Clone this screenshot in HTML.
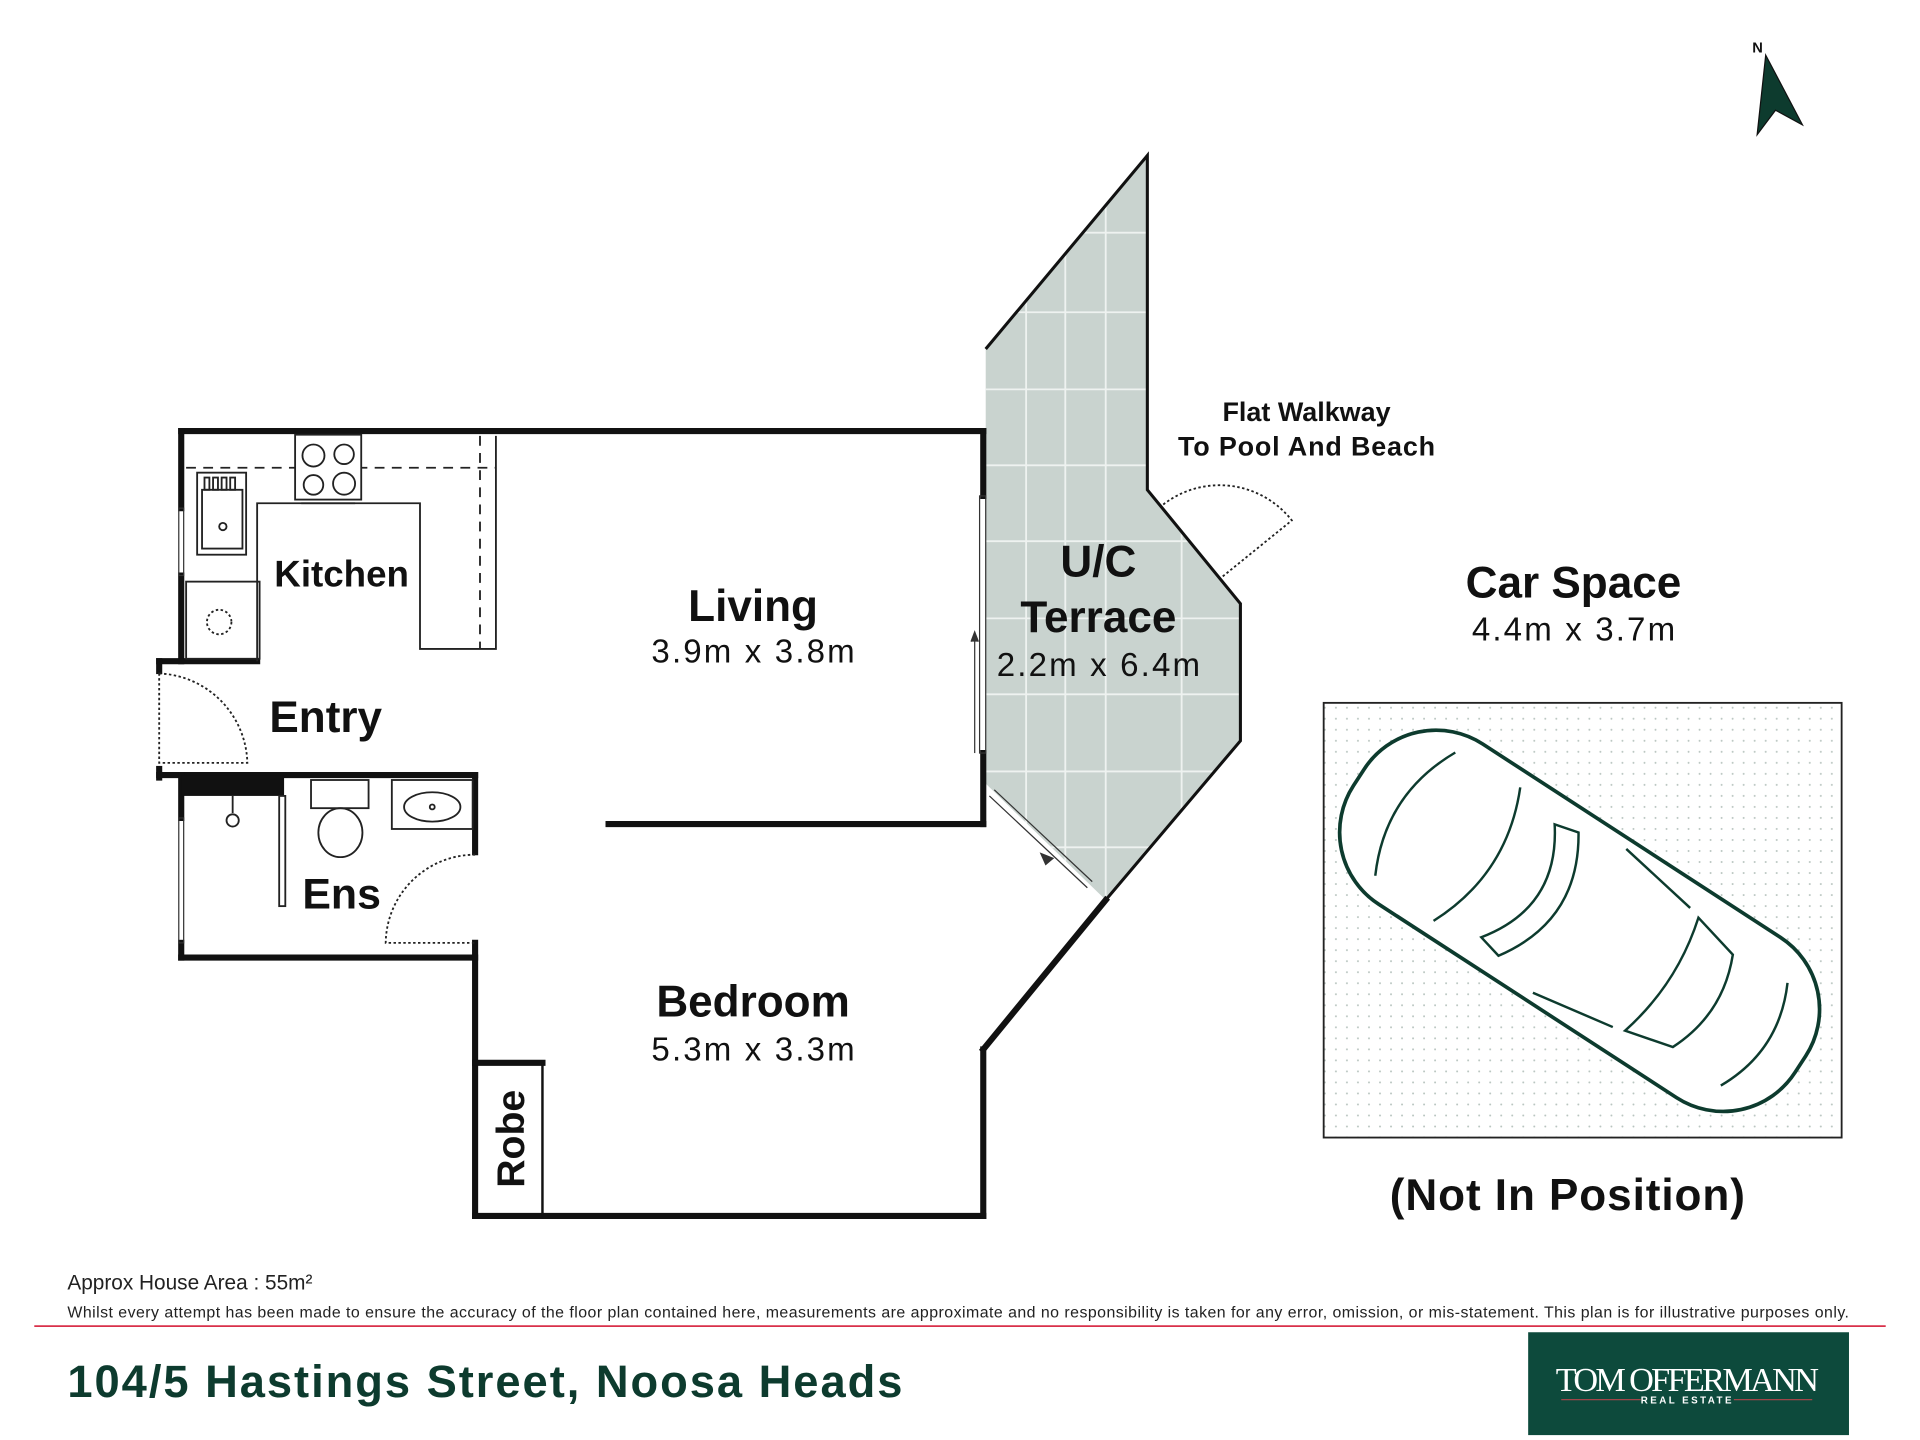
<!DOCTYPE html>
<html><head><meta charset="utf-8"><style>
html,body{margin:0;padding:0;background:#fff}
svg{display:block}
text{font-family:"Liberation Sans","DejaVu Sans",sans-serif}
</style></head><body>
<svg width="1920" height="1440" viewBox="0 0 1568 1176" xmlns="http://www.w3.org/2000/svg">
<defs>
<pattern id="dots" width="9" height="9" patternUnits="userSpaceOnUse"><circle cx="2" cy="2" r="0.8" fill="#b8c4bf"/></pattern>
<clipPath id="tc"><polygon points="805,285 937,127 937,400 1013,493 1013,605 903,735 805,640"/></clipPath>
</defs>
<rect width="1568" height="1176" fill="#fff"/>
<polygon points="805,285 937,127 937,400 1013,493 1013,605 903,735 805,640" fill="#c9d3cf"/>
<g clip-path="url(#tc)" stroke="#eef2f0" stroke-width="1.5">
<line x1="838" y1="100" x2="838" y2="760"/><line x1="870" y1="100" x2="870" y2="760"/><line x1="903" y1="100" x2="903" y2="760"/><line x1="965" y1="100" x2="965" y2="760"/>
<line x1="800" y1="190" x2="1020" y2="190"/><line x1="800" y1="255" x2="1020" y2="255"/><line x1="800" y1="318" x2="1020" y2="318"/><line x1="800" y1="380" x2="1020" y2="380"/><line x1="800" y1="442" x2="1020" y2="442"/><line x1="800" y1="505" x2="1020" y2="505"/><line x1="800" y1="567" x2="1020" y2="567"/><line x1="800" y1="630" x2="1020" y2="630"/><line x1="800" y1="692" x2="1020" y2="692"/>
</g>
<polyline points="805,285 937,127 937,400 1013,493 1013,605 903,735" fill="none" stroke="#111" stroke-width="2.5"/>
<path d="M950,412 A75,75 0 0 1 1055,425 L997,472" fill="none" stroke="#222" stroke-width="1.5" stroke-dasharray="2,2"/>
<g stroke="#111" stroke-width="5" fill="none" stroke-linecap="square">
<line x1="148" y1="352" x2="803" y2="352"/>
<line x1="148" y1="352" x2="148" y2="415"/>
<line x1="148" y1="470" x2="148" y2="540"/>
<line x1="130" y1="540" x2="210" y2="540"/>
<line x1="130" y1="540" x2="130" y2="548"/>
<line x1="130" y1="628" x2="130" y2="635"/>
<line x1="130" y1="633" x2="388" y2="633"/>
<line x1="148" y1="633" x2="148" y2="668"/>
<line x1="148" y1="770" x2="148" y2="782"/>
<line x1="148" y1="782" x2="388" y2="782"/>
<line x1="388" y1="633" x2="388" y2="696"/>
<line x1="388" y1="770" x2="388" y2="993"/>
<line x1="388" y1="993" x2="803" y2="993"/>
<line x1="803" y1="993" x2="803" y2="857"/>
<line x1="803" y1="857" x2="903" y2="735"/>
<line x1="497" y1="673" x2="803" y2="673"/>
<line x1="803" y1="352" x2="803" y2="405"/>
<line x1="803" y1="615" x2="803" y2="673"/>
<line x1="388" y1="868" x2="443" y2="868"/>
</g>
<rect x="148" y="633" width="84" height="17" fill="#111"/>
<line x1="443" y1="868" x2="443" y2="993" stroke="#111" stroke-width="2"/>
<g stroke="#333" stroke-width="1" fill="none">
<rect x="146" y="415" width="4" height="55"/><rect x="146" y="668" width="4" height="102"/>
<rect x="800" y="405" width="5" height="210"/>
<line x1="796" y1="520" x2="796" y2="615"/><path d="M793,524 L796,516 L799,524" fill="#333"/>
<line x1="812" y1="645" x2="892" y2="720"/><line x1="808" y1="650" x2="888" y2="725"/>
<path d="M850,697 L860,701 L854,706 Z" fill="#333"/>
</g>
<g fill="none" stroke="#222" stroke-width="1.5" stroke-dasharray="2,2">
<path d="M130,550 A75,75 0 0 1 202,623 L130,623 Z"/>
<path d="M388,698 A73,73 0 0 0 315,770 L388,770"/>
</g>
<g fill="none" stroke="#222" stroke-width="1.5">
<line x1="152" y1="382" x2="405" y2="382" stroke-dasharray="8,6"/>
<line x1="392" y1="356" x2="392" y2="530" stroke-dasharray="8,6"/>
<polyline points="405,356 405,530 343,530 343,411 210,411 210,540"/>
<rect x="241" y="355" width="54" height="53" fill="#fff"/>
<circle cx="256" cy="372" r="9"/><circle cx="281" cy="371" r="8"/><circle cx="256" cy="396" r="8"/><circle cx="281" cy="395" r="9"/>
<line x1="246" y1="411" x2="290" y2="411"/>
<rect x="161" y="386" width="40" height="67"/><rect x="165" y="400" width="33" height="48"/>
<rect x="167" y="390" width="4" height="10"/><rect x="174" y="390" width="4" height="10"/><rect x="181" y="390" width="4" height="10"/><rect x="188" y="390" width="4" height="10"/>
<circle cx="182" cy="430" r="3"/>
<rect x="152" y="475" width="60" height="63"/>
<circle cx="179" cy="508" r="10" stroke-dasharray="2,2"/>
<rect x="254" y="637" width="47" height="23"/><ellipse cx="278" cy="680" rx="18" ry="20"/>
<rect x="320" y="637" width="66" height="40"/><ellipse cx="353" cy="659" rx="23" ry="12"/><circle cx="353" cy="659" r="2"/>
<line x1="190" y1="650" x2="190" y2="664"/><circle cx="190" cy="670" r="5"/>
<rect x="228" y="650" width="5" height="90"/>
</g>
<rect x="1081" y="574" width="423" height="355" fill="url(#dots)" stroke="#222" stroke-width="1.5"/>
<g transform="translate(1290,752) rotate(33)" fill="none" stroke="#0d3b2e" stroke-width="3">
<rect x="-215" y="-78" width="430" height="156" rx="70" ry="70" fill="#fff"/>
<path d="M-160,-60 Q-190,0 -160,60 M-100,-65 Q-70,0 -100,65" stroke-width="2"/>
<path d="M-60,-55 Q-20,0 -60,55 L-40,60 Q0,0 -40,-60 Z" stroke-width="2"/>
<path d="M80,-55 L120,-45 Q140,0 120,45 L80,55 Q95,0 80,-55 Z" stroke-width="2"/>
<path d="M0,-70 L70,-58 M0,70 L70,58 M170,-50 Q195,0 170,50" stroke-width="2"/>
</g>
<polygon points="1442,45 1472,102 1450,90 1435,110" fill="#0d3b2e" stroke="#111" stroke-width="1"/>
<text x="1431" y="43" font-size="12" font-weight="bold" fill="#111">N</text>
<g fill="#111" font-weight="bold" text-anchor="middle">
<text x="279" y="479" font-size="30">Kitchen</text>
<text x="266" y="598" font-size="36">Entry</text>
<text x="279" y="742" font-size="35">Ens</text>
<text x="615" y="507" font-size="36">Living</text>
<text x="615" y="830" font-size="36">Bedroom</text>
<text x="897" y="471" font-size="36">U/C</text>
<text x="897" y="516" font-size="36">Terrace</text>
<text x="1285" y="488" font-size="36">Car Space</text>
<text x="1280" y="988" font-size="36" textLength="290">(Not In Position)</text>
<text x="1067" y="344" font-size="22">Flat Walkway</text>
<text x="1067" y="372" font-size="22" textLength="210">To Pool And Beach</text>
<text transform="translate(428,930) rotate(-90)" font-size="32">Robe</text>
</g>
<g fill="#111" text-anchor="middle" font-size="27">
<text x="615" y="541" textLength="166">3.9m x 3.8m</text>
<text x="615" y="866" textLength="166">5.3m x 3.3m</text>
<text x="897" y="552" textLength="166">2.2m x 6.4m</text>
<text x="1285" y="523" textLength="166">4.4m x 3.7m</text>
</g>
<text x="55" y="1053" font-size="17" fill="#222">Approx House Area : 55m²</text>
<text x="55" y="1076" font-size="13" fill="#222" textLength="1455">Whilst every attempt has been made to ensure the accuracy of the floor plan contained here, measurements are approximate and no responsibility is taken for any error, omission, or mis-statement. This plan is for illustrative purposes only.</text>
<line x1="28" y1="1083" x2="1540" y2="1083" stroke="#d9304a" stroke-width="1.5"/>
<text x="55" y="1141" font-size="37" font-weight="bold" fill="#0d3b2e" textLength="682">104/5 Hastings Street, Noosa Heads</text>
<rect x="1248" y="1088" width="262" height="84" fill="#0d4a3c"/>
<text x="1378" y="1136" font-size="28" fill="#fff" text-anchor="middle" style="font-family:'Liberation Serif',serif" textLength="215">TOM OFFERMANN</text>
<text x="1378" y="1146" font-size="8" fill="#fff" text-anchor="middle" font-weight="bold" letter-spacing="2">REAL ESTATE</text>
<line x1="1275" y1="1143" x2="1340" y2="1143" stroke="#a0464a"/><line x1="1416" y1="1143" x2="1480" y2="1143" stroke="#a0464a"/>
</svg>
</body></html>
